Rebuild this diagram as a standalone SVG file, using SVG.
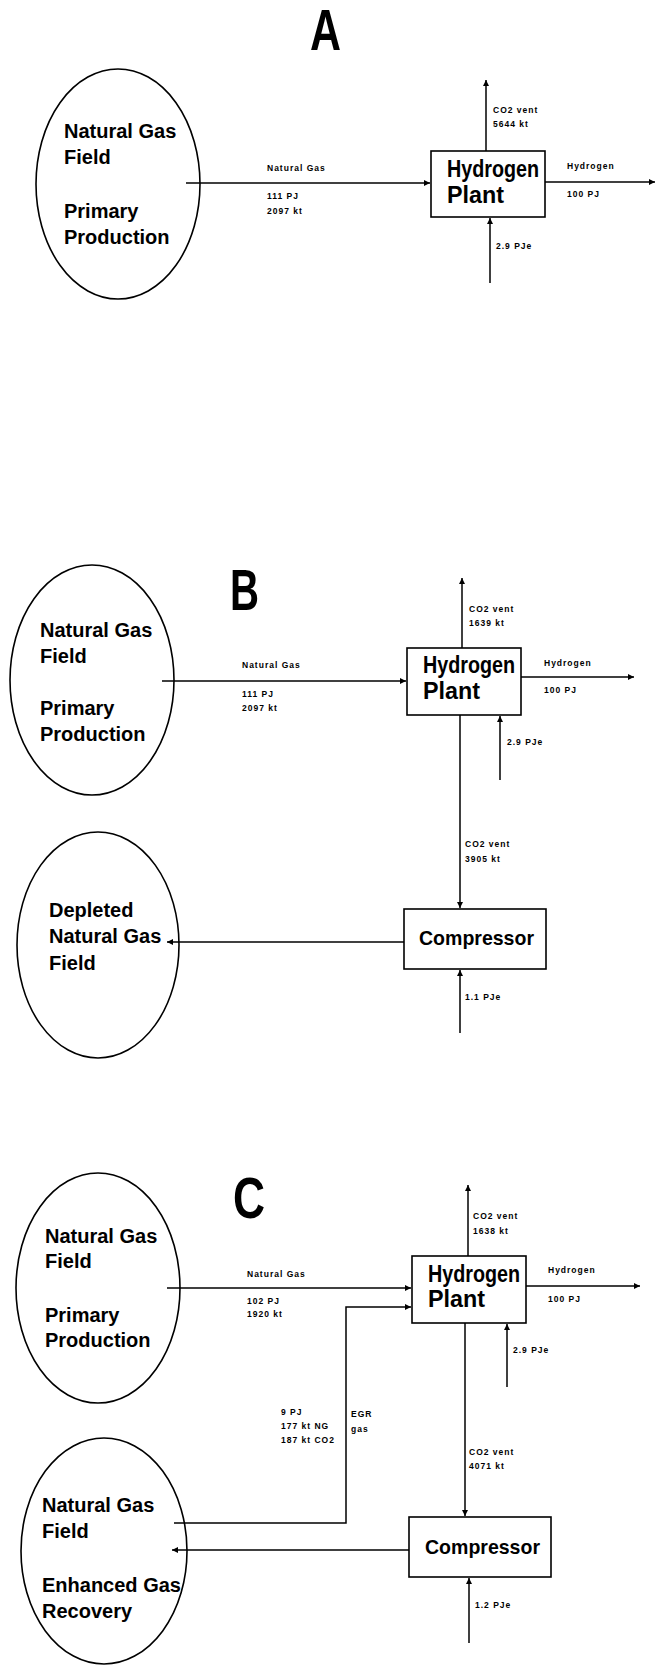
<svg xmlns="http://www.w3.org/2000/svg" width="656" height="1666" viewBox="0 0 656 1666">
<style>
text{font-family:"Liberation Sans",Arial,sans-serif;font-weight:bold;fill:#000}
.big{font-size:20px}
.box{font-size:23px}
.cmp{font-size:21px}
.lbl{font-size:8.5px;letter-spacing:1px}
.sec{font-size:58px}
.shape{fill:none;stroke:#000;stroke-width:1.6}
.ln{fill:none;stroke:#000;stroke-width:1.5}
</style>
<defs>
<marker id="ah" markerUnits="userSpaceOnUse" markerWidth="7" markerHeight="7" refX="6" refY="3" orient="auto">
<path d="M0,0 L6,3 L0,6 z" fill="#000"/>
</marker>
</defs>
<rect width="656" height="1666" fill="#fff"/>

<!-- Section labels -->
<text class="sec" x="310" y="50" textLength="31" lengthAdjust="spacingAndGlyphs">A</text>
<text class="sec" x="230" y="610" textLength="29" lengthAdjust="spacingAndGlyphs">B</text>
<text class="sec" x="233" y="1218" textLength="32" lengthAdjust="spacingAndGlyphs">C</text>

<!-- ===== A ===== -->
<g id="A_field">
<ellipse class="shape" cx="118" cy="184" rx="82" ry="115"/>
<text class="big" x="64" y="138">Natural Gas</text>
<text class="big" x="64" y="164">Field</text>
<text class="big" x="64" y="218">Primary</text>
<text class="big" x="64" y="244">Production</text>
</g>
<g id="A_plant">
<rect class="shape" x="431" y="151" width="114" height="66"/>
<text class="box" x="447" y="177" textLength="92" lengthAdjust="spacingAndGlyphs">Hydrogen</text>
<text class="box" x="447" y="203" textLength="57" lengthAdjust="spacingAndGlyphs">Plant</text>
</g>

<!-- ===== B ===== -->
<g id="B_field">
<ellipse class="shape" cx="92" cy="680" rx="82" ry="115"/>
<text class="big" x="40" y="637">Natural Gas</text>
<text class="big" x="40" y="663">Field</text>
<text class="big" x="40" y="715">Primary</text>
<text class="big" x="40" y="741">Production</text>
</g>
<g id="B_plant">
<rect class="shape" x="407" y="648" width="114" height="67"/>
<text class="box" x="423" y="673" textLength="92" lengthAdjust="spacingAndGlyphs">Hydrogen</text>
<text class="box" x="423" y="699" textLength="57" lengthAdjust="spacingAndGlyphs">Plant</text>
</g>
<g id="B_compressor">
<rect class="shape" x="404" y="909" width="142" height="60"/>
<text class="cmp" x="419" y="945" textLength="115" lengthAdjust="spacingAndGlyphs">Compressor</text>
</g>
<g id="B_depleted">
<ellipse class="shape" cx="98" cy="945" rx="81" ry="113"/>
<text class="big" x="49" y="917">Depleted</text>
<text class="big" x="49" y="943">Natural Gas</text>
<text class="big" x="49" y="970">Field</text>
</g>

<!-- ===== C ===== -->
<g id="C_field">
<ellipse class="shape" cx="98" cy="1288" rx="82" ry="115"/>
<text class="big" x="45" y="1243">Natural Gas</text>
<text class="big" x="45" y="1268">Field</text>
<text class="big" x="45" y="1322">Primary</text>
<text class="big" x="45" y="1347">Production</text>
</g>
<g id="C_plant">
<rect class="shape" x="412" y="1256" width="114" height="67"/>
<text class="box" x="428" y="1282" textLength="92" lengthAdjust="spacingAndGlyphs">Hydrogen</text>
<text class="box" x="428" y="1307" textLength="57" lengthAdjust="spacingAndGlyphs">Plant</text>
</g>
<g id="C_compressor">
<rect class="shape" x="409" y="1517" width="142" height="60"/>
<text class="cmp" x="425" y="1554" textLength="115" lengthAdjust="spacingAndGlyphs">Compressor</text>
</g>
<g id="C_egr_field">
<ellipse class="shape" cx="104" cy="1551" rx="83" ry="113"/>
<text class="big" x="42" y="1512">Natural Gas</text>
<text class="big" x="42" y="1538">Field</text>
<text class="big" x="42" y="1592">Enhanced Gas</text>
<text class="big" x="42" y="1618">Recovery</text>
</g>

<!-- ===== Connectors ===== -->
<g id="connectors">
<!-- A -->
<path class="ln" d="M186 183 L430 183" marker-end="url(#ah)"/>
<path class="ln" d="M486 151 L486 80" marker-end="url(#ah)"/>
<path class="ln" d="M545 182 L655 182" marker-end="url(#ah)"/>
<path class="ln" d="M490 283 L490 218" marker-end="url(#ah)"/>
<!-- B -->
<path class="ln" d="M162 681 L406 681" marker-end="url(#ah)"/>
<path class="ln" d="M462 648 L462 578" marker-end="url(#ah)"/>
<path class="ln" d="M521 677 L634 677" marker-end="url(#ah)"/>
<path class="ln" d="M500 780 L500 716" marker-end="url(#ah)"/>
<path class="ln" d="M460 715 L460 908" marker-end="url(#ah)"/>
<path class="ln" d="M404 942 L167 942" marker-end="url(#ah)"/>
<path class="ln" d="M460 1033 L460 970" marker-end="url(#ah)"/>
<!-- C -->
<path class="ln" d="M167 1288 L411 1288" marker-end="url(#ah)"/>
<path class="ln" d="M468 1256 L468 1185" marker-end="url(#ah)"/>
<path class="ln" d="M526 1286 L640 1286" marker-end="url(#ah)"/>
<path class="ln" d="M507 1387 L507 1324" marker-end="url(#ah)"/>
<path class="ln" d="M174 1523 L346 1523 L346 1307 L411 1307" marker-end="url(#ah)"/>
<path class="ln" d="M465 1323 L465 1516" marker-end="url(#ah)"/>
<path class="ln" d="M409 1550 L172 1550" marker-end="url(#ah)"/>
<path class="ln" d="M469 1643 L469 1578" marker-end="url(#ah)"/>
</g>

<!-- Connector labels -->
<g id="labels">
<!-- A -->
<text class="lbl" x="267" y="171">Natural Gas</text>
<text class="lbl" x="267" y="199">111 PJ</text>
<text class="lbl" x="267" y="214">2097 kt</text>
<text class="lbl" x="493" y="113">CO2 vent</text>
<text class="lbl" x="493" y="127">5644 kt</text>
<text class="lbl" x="567" y="169">Hydrogen</text>
<text class="lbl" x="567" y="197">100 PJ</text>
<text class="lbl" x="496" y="249">2.9 PJe</text>
<!-- B -->
<text class="lbl" x="242" y="668">Natural Gas</text>
<text class="lbl" x="242" y="697">111 PJ</text>
<text class="lbl" x="242" y="711">2097 kt</text>
<text class="lbl" x="469" y="612">CO2 vent</text>
<text class="lbl" x="469" y="626">1639 kt</text>
<text class="lbl" x="544" y="666">Hydrogen</text>
<text class="lbl" x="544" y="693">100 PJ</text>
<text class="lbl" x="507" y="745">2.9 PJe</text>
<text class="lbl" x="465" y="847">CO2 vent</text>
<text class="lbl" x="465" y="862">3905 kt</text>
<text class="lbl" x="465" y="1000">1.1 PJe</text>
<!-- C -->
<text class="lbl" x="247" y="1277">Natural Gas</text>
<text class="lbl" x="247" y="1304">102 PJ</text>
<text class="lbl" x="247" y="1317">1920 kt</text>
<text class="lbl" x="473" y="1219">CO2 vent</text>
<text class="lbl" x="473" y="1234">1638 kt</text>
<text class="lbl" x="548" y="1273">Hydrogen</text>
<text class="lbl" x="548" y="1302">100 PJ</text>
<text class="lbl" x="513" y="1353">2.9 PJe</text>
<text class="lbl" x="281" y="1415">9 PJ</text>
<text class="lbl" x="281" y="1429">177 kt NG</text>
<text class="lbl" x="281" y="1443">187 kt CO2</text>
<text class="lbl" x="351" y="1417">EGR</text>
<text class="lbl" x="351" y="1432">gas</text>
<text class="lbl" x="469" y="1455">CO2 vent</text>
<text class="lbl" x="469" y="1469">4071 kt</text>
<text class="lbl" x="475" y="1608">1.2 PJe</text>
</g>
</svg>
